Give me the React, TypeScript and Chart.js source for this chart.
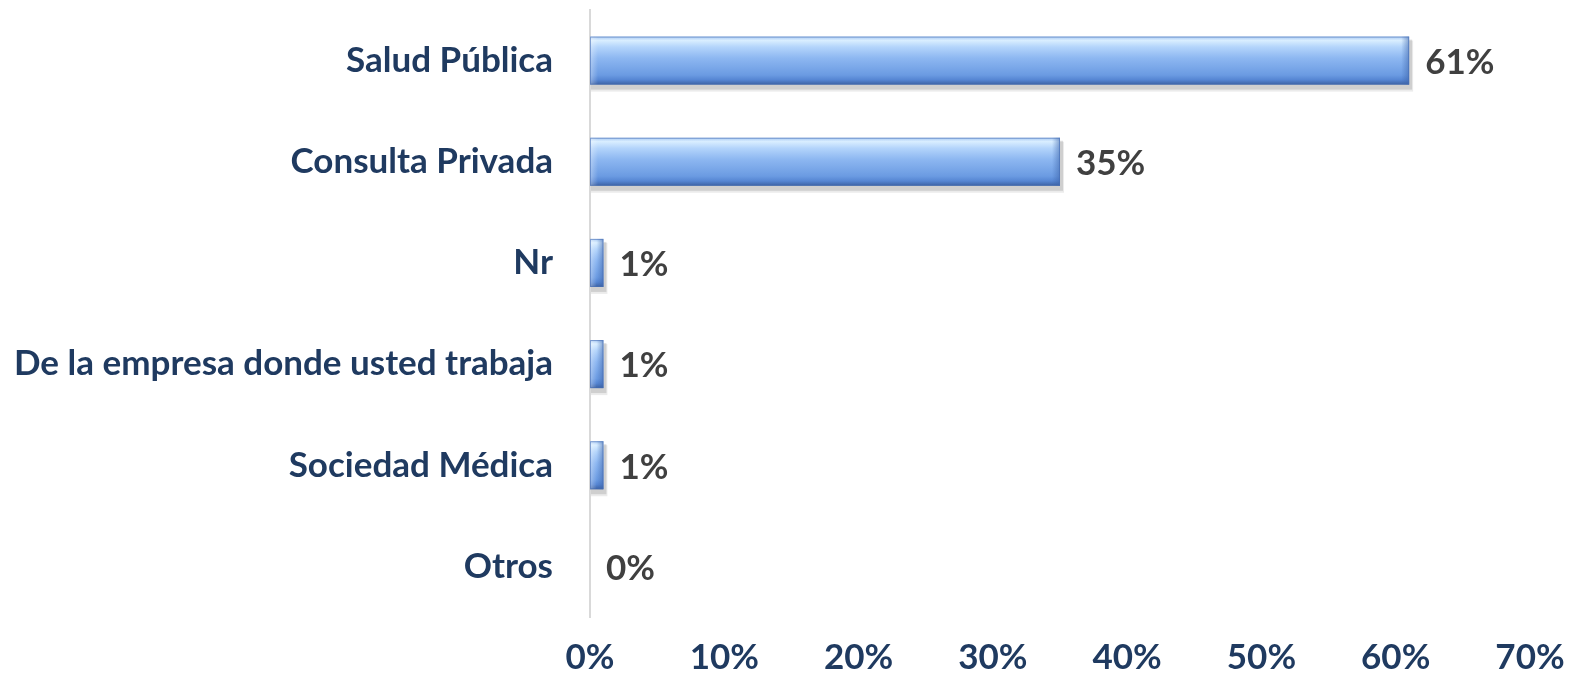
import React, { useEffect, useRef } from "react";
import { Chart, registerables } from "chart.js";

Chart.register(...registerables);

const categories = [
  "Salud Pública",
  "Consulta Privada",
  "Nr",
  "De la empresa donde usted trabaja",
  "Sociedad Médica",
  "Otros",
];
const values = [0.61, 0.35, 0.01, 0.01, 0.01, 0.0];
const valueLabels = ["61%", "35%", "1%", "1%", "1%", "0%"];

const FONT = "Lato, 'Open Sans', sans-serif";

const barStylePlugin = {
  id: "barStyle",
  afterDatasetsDraw(chart: any) {
    const ctx = chart.ctx as CanvasRenderingContext2D;
    const meta = chart.getDatasetMeta(0);
    meta.data.forEach((bar: any, i: number) => {
      const { x, y, base, height } = bar.getProps(["x", "y", "base", "height"], true);
      const left = Math.min(x, base);
      const right = Math.max(x, base);
      const w = right - left;
      const top = y - height / 2;
      const h = height;
      if (w >= 1) {
        ctx.save();
        ctx.fillStyle = "rgba(0,0,0,0.12)";
        ctx.fillRect(left + 1, top + 3, w + 2, h + 2);
        ctx.fillStyle = "rgba(0,0,0,0.08)";
        ctx.fillRect(left + 1, top + 4, w + 3, h + 3);
        const g = ctx.createLinearGradient(0, top, 0, top + h);
        g.addColorStop(0, "#a9c9f2");
        g.addColorStop(0.08, "#d9eeff");
        g.addColorStop(0.22, "#b3d4fb");
        g.addColorStop(0.45, "#8db7f1");
        g.addColorStop(0.8, "#6b9be2");
        g.addColorStop(0.9, "#5686d3");
        g.addColorStop(1, "#3c62a3");
        ctx.fillStyle = g;
        ctx.fillRect(left, top, w, h);
        const bw = Math.min(8, w / 2);
        const gr = ctx.createLinearGradient(right - bw, 0, right, 0);
        gr.addColorStop(0, "rgba(60,100,170,0)");
        gr.addColorStop(1, "rgba(60,100,170,0.55)");
        ctx.fillStyle = gr;
        ctx.fillRect(right - bw, top, bw, h);
        const gl = ctx.createLinearGradient(left, 0, left + bw, 0);
        gl.addColorStop(0, "rgba(255,255,255,0.35)");
        gl.addColorStop(1, "rgba(255,255,255,0)");
        ctx.fillStyle = gl;
        ctx.fillRect(left, top, bw, h);
        ctx.strokeStyle = "rgba(70,110,180,0.6)";
        ctx.lineWidth = 1;
        ctx.strokeRect(left + 0.5, top + 0.5, w - 1, h - 1);
        ctx.restore();
      }
      ctx.save();
      ctx.font = `bold 35px ${FONT}`;
      ctx.fillStyle = "#404040";
      ctx.textAlign = "left";
      ctx.textBaseline = "middle";
      ctx.fillText(valueLabels[i], right + 16, y + 2);
      ctx.restore();
    });
  },
};

export default function App() {
  const ref = useRef<HTMLCanvasElement>(null);
  useEffect(() => {
    const chart = new Chart(ref.current as HTMLCanvasElement, {
      type: "bar",
      data: {
        labels: categories,
        datasets: [
          {
            data: values,
            backgroundColor: "rgba(0,0,0,0)",
            borderWidth: 0,
            categoryPercentage: 1,
            barPercentage: 0.475,
          },
        ],
      },
      options: {
        indexAxis: "y",
        animation: false,
        responsive: false,
        layout: { padding: { top: 10, right: 40, left: 0, bottom: 0 } },
        plugins: {
          legend: { display: false },
          tooltip: { enabled: false },
        },
        scales: {
          x: {
            min: 0,
            max: 0.7,
            grid: { display: false, drawTicks: false },
            border: { display: false },
            ticks: {
              stepSize: 0.1,
              padding: 20,
              color: "#1f3a60",
              font: { family: FONT, size: 35, weight: "bold" },
              callback: (v: any) => `${Math.round(Number(v) * 100)}%`,
            },
            afterFit: (s: any) => {
              s.height = 63;
              s.paddingLeft = 0;
              s.paddingRight = 0;
            },
          },
          y: {
            grid: { display: false, drawTicks: false },
            border: { display: true, color: "#d9d9d9", width: 2 },
            ticks: {
              padding: 37,
              color: "#1f3a60",
              font: { family: FONT, size: 35, weight: "bold" },
            },
            afterFit: (s: any) => {
              s.width = 590;
              s.paddingTop = 0;
              s.paddingBottom = 0;
            },
          },
        },
      },
      plugins: [barStylePlugin],
    } as any);
    return () => chart.destroy();
  }, []);
  return (
    <div style={{ position: "absolute", left: 0, top: 0, width: 1570, height: 680, background: "#fff" }}>
      <canvas ref={ref} width={1570} height={680} />
    </div>
  );
}
